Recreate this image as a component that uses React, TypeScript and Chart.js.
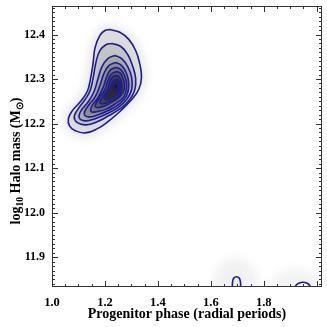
import { useEffect, useRef } from 'react';
import { Chart, registerables } from 'chart.js';

Chart.register(...registerables);

// Axis ranges and tick labels
const xRange = [1.0, 2.02];
const yRange = [11.833, 12.464];
const xMajorTicks = [1.0, 1.2, 1.4, 1.6, 1.8];
const yMajorTicks = [11.9, 12.0, 12.1, 12.2, 12.3, 12.4];
const xTitle = 'Progenitor phase (radial periods)';

// Contours of the density (outer -> inner), [phase, log10 mass]
const contour1 = [
  [1.219, 12.411], [1.256, 12.405], [1.29, 12.389], [1.316, 12.364], [1.331, 12.335],
  [1.338, 12.303], [1.327, 12.276], [1.301, 12.254], [1.26, 12.229], [1.215, 12.206],
  [1.17, 12.188], [1.125, 12.179], [1.088, 12.184], [1.066, 12.195], [1.062, 12.211],
  [1.077, 12.229], [1.11, 12.251], [1.133, 12.272], [1.144, 12.296], [1.155, 12.335],
  [1.163, 12.371], [1.181, 12.398], [1.2, 12.409], [1.219, 12.411],
];
const contour2 = [
  [1.226, 12.38], [1.26, 12.373], [1.286, 12.355], [1.304, 12.33], [1.316, 12.301],
  [1.312, 12.274], [1.29, 12.251], [1.256, 12.233], [1.215, 12.218], [1.17, 12.204],
  [1.129, 12.197], [1.096, 12.202], [1.084, 12.215], [1.099, 12.233], [1.125, 12.254],
  [1.144, 12.274], [1.155, 12.301], [1.166, 12.337], [1.181, 12.364], [1.204, 12.377],
  [1.226, 12.38],
];
const contour3 = [
  [1.237, 12.353], [1.263, 12.346], [1.286, 12.328], [1.301, 12.303], [1.301, 12.276],
  [1.282, 12.254], [1.249, 12.236], [1.207, 12.222], [1.163, 12.211], [1.125, 12.206],
  [1.103, 12.213], [1.11, 12.229], [1.137, 12.249], [1.159, 12.272], [1.174, 12.301],
  [1.189, 12.328], [1.211, 12.346], [1.237, 12.353],
];
const contour4 = [
  [1.241, 12.337], [1.263, 12.33], [1.282, 12.312], [1.29, 12.287], [1.282, 12.263],
  [1.256, 12.245], [1.219, 12.231], [1.174, 12.22], [1.14, 12.215], [1.122, 12.222],
  [1.137, 12.24], [1.163, 12.26], [1.181, 12.285], [1.196, 12.312], [1.215, 12.33],
  [1.241, 12.337],
];
const contour5 = [
  [1.245, 12.326], [1.263, 12.319], [1.278, 12.301], [1.282, 12.281], [1.271, 12.26],
  [1.245, 12.247], [1.207, 12.233], [1.17, 12.227], [1.148, 12.227], [1.151, 12.24],
  [1.174, 12.258], [1.193, 12.281], [1.207, 12.305], [1.222, 12.321], [1.245, 12.326],
];
const contour6 = [
  [1.245, 12.317], [1.26, 12.312], [1.271, 12.296], [1.273, 12.278], [1.26, 12.263],
  [1.234, 12.251], [1.2, 12.24], [1.174, 12.236], [1.163, 12.24], [1.178, 12.256],
  [1.2, 12.276], [1.211, 12.296], [1.226, 12.312], [1.245, 12.317],
];
const contour7 = [
  [1.245, 12.308], [1.256, 12.303], [1.263, 12.29], [1.263, 12.274], [1.249, 12.26],
  [1.222, 12.251], [1.196, 12.245], [1.181, 12.247], [1.193, 12.26], [1.211, 12.278],
  [1.219, 12.294], [1.23, 12.305], [1.245, 12.308],
];
const contour8 = [
  [1.245, 12.3], [1.254, 12.296], [1.258, 12.283], [1.252, 12.269], [1.234, 12.26],
  [1.211, 12.254], [1.2, 12.256], [1.207, 12.267], [1.222, 12.281], [1.23, 12.294],
  [1.245, 12.3],
];
const contour9 = [
  [1.243, 12.292], [1.249, 12.287], [1.249, 12.28], [1.241, 12.276], [1.235, 12.28],
  [1.236, 12.287], [1.243, 12.292],
];
// small contours touching the lower axis
const contourLow1 = [
  [1.682, 11.826], [1.682, 11.844], [1.687, 11.853], [1.697, 11.856], [1.707, 11.853],
  [1.712, 11.844], [1.713, 11.826],
];
const contourLow2 = [
  [1.915, 11.826], [1.922, 11.837], [1.935, 11.842], [1.948, 11.8435], [1.962, 11.842],
  [1.973, 11.837], [1.98, 11.826],
];
// faint density patches near the lower axis
const faintPatch1 = [
  [1.6, 11.826], [1.62, 11.872], [1.66, 11.9], [1.72, 11.897], [1.77, 11.872], [1.79, 11.826],
];
const faintPatch2 = [
  [1.82, 11.826], [1.85, 11.862], [1.91, 11.874], [1.98, 11.868], [2.02, 11.826],
];

const mainContours = [contour1, contour2, contour3, contour4, contour5, contour6, contour7, contour8, contour9];
const contourFill = ['#dcdcdc', '#c4c4c4', '#a8a8a8', '#8c8c8c', '#717171', '#575757', '#3f3f3f', '#2a2a2a', '#151515'];
const lineColor = '#1c1c96';

const SERIF = "'Liberation Serif', 'Times New Roman', serif";

export default function App() {
  const ref = useRef<HTMLCanvasElement | null>(null);

  useEffect(() => {
    document.body.style.margin = '0';
    const canvas = ref.current;
    if (!canvas) return;

    const allContours = [...mainContours, contourLow1, contourLow2];
    const datasets = allContours.map((c) => ({
      data: c.map(([x, y]) => ({ x, y })),
      showLine: true,
      tension: 0.45,
      borderColor: lineColor,
      borderWidth: 1.6,
      pointRadius: 0,
      fill: false,
    }));

    const densityPlugin = {
      id: 'density',
      beforeDatasetsDraw(chart: any) {
        const ctx = chart.ctx;
        const a = chart.chartArea;
        const xs = chart.scales.x;
        const ys = chart.scales.y;
        ctx.save();
        ctx.beginPath();
        ctx.rect(a.left, a.top, a.right - a.left, a.bottom - a.top);
        ctx.clip();
        const poly = (pts: number[][]) => {
          ctx.beginPath();
          pts.forEach(([x, y], i) => {
            const px = xs.getPixelForValue(x);
            const py = ys.getPixelForValue(y);
            if (i) ctx.lineTo(px, py);
            else ctx.moveTo(px, py);
          });
          ctx.closePath();
        };
        const smooth = (i: number) => {
          const meta = chart.getDatasetMeta(i);
          const line = meta.dataset;
          try {
            line.updateControlPoints(a, 'x');
            ctx.beginPath();
            line.path(ctx);
            ctx.closePath();
          } catch (e) {
            poly(allContours[i]);
          }
        };
        // faint halo around the main blob
        ctx.filter = 'blur(5px)';
        ctx.fillStyle = '#ebebeb';
        ctx.strokeStyle = '#ebebeb';
        ctx.lineWidth = 10;
        smooth(0);
        ctx.fill();
        ctx.stroke();
        ctx.fillStyle = '#f2f2f2';
        poly(faintPatch1);
        ctx.fill();
        poly(faintPatch2);
        ctx.fill();
        ctx.filter = 'blur(3px)';
        ctx.fillStyle = '#e6e6e6';
        smooth(9);
        ctx.fill();
        // nested contour fills
        ctx.filter = 'blur(1.5px)';
        mainContours.forEach((_, i) => {
          ctx.fillStyle = contourFill[i];
          smooth(i);
          ctx.fill();
        });
        ctx.filter = 'none';
        ctx.restore();
      },
      afterDraw(chart: any) {
        const ctx = chart.ctx;
        const a = chart.chartArea;
        const xs = chart.scales.x;
        const ys = chart.scales.y;
        ctx.save();
        ctx.strokeStyle = '#333';
        ctx.lineWidth = 1;
        ctx.strokeRect(Math.round(a.left) + 0.5, Math.round(a.top) + 0.5, Math.round(a.right - a.left) - 1, Math.round(a.bottom - a.top) - 1);
        ctx.beginPath();
        // x ticks (minor every 0.05, major every 0.2)
        for (let k = 0; ; k++) {
          const v = xRange[0] + k * 0.05;
          if (v > xRange[1] + 1e-9) break;
          const major = k % 4 === 0;
          const len = major ? 6 : 3;
          const px = Math.round(xs.getPixelForValue(v)) + 0.5;
          ctx.moveTo(px, a.bottom);
          ctx.lineTo(px, a.bottom - len);
          ctx.moveTo(px, a.top);
          ctx.lineTo(px, a.top + len);
        }
        // y ticks (minor every 0.01, major every 0.1)
        for (let k = Math.ceil(yRange[0] * 100); k <= Math.floor(yRange[1] * 100); k++) {
          const v = k / 100;
          const major = k % 10 === 0;
          const len = major ? 6 : 3;
          const py = Math.round(ys.getPixelForValue(v)) + 0.5;
          ctx.moveTo(a.left, py);
          ctx.lineTo(a.left + len, py);
          ctx.moveTo(a.right, py);
          ctx.lineTo(a.right - len, py);
        }
        ctx.stroke();

        // x title
        ctx.fillStyle = '#000';
        ctx.font = `bold 14px ${SERIF}`;
        ctx.textAlign = 'center';
        ctx.textBaseline = 'alphabetic';
        ctx.fillText(xTitle, (a.left + a.right) / 2, 318);

        // y title with subscripts
        const parts = [
          { t: 'log', s: 14, dy: 0 },
          { t: '10', s: 9.5, dy: 3 },
          { t: ' Halo mass (M', s: 14, dy: 0 },
          { t: '\u2299', s: 9.5, dy: 3 },
          { t: ')', s: 14, dy: 0 },
        ];
        let total = 0;
        parts.forEach((p) => {
          ctx.font = `bold ${p.s}px ${SERIF}`;
          total += ctx.measureText(p.t).width;
        });
        ctx.translate(20, 161);
        ctx.rotate(-Math.PI / 2);
        ctx.textAlign = 'left';
        let cx = -total / 2;
        parts.forEach((p) => {
          ctx.font = `bold ${p.s}px ${SERIF}`;
          ctx.fillText(p.t, cx, p.dy);
          cx += ctx.measureText(p.t).width;
        });
        ctx.restore();
      },
    };

    const chart = new Chart(canvas, {
      type: 'scatter',
      data: { datasets },
      options: {
        animation: false,
        responsive: false,
        devicePixelRatio: 1,
        layout: { padding: { top: 6, right: 5, left: 0, bottom: 0 } },
        plugins: { legend: { display: false }, tooltip: { enabled: false } },
        scales: {
          x: {
            type: 'linear',
            min: xRange[0],
            max: xRange[1],
            grid: { display: false, drawTicks: false },
            border: { display: false },
            afterBuildTicks: (s: any) => {
              s.ticks = xMajorTicks.map((v) => ({ value: v }));
            },
            afterFit: (s: any) => {
              s.height = 40;
              s.paddingLeft = 0;
              s.paddingRight = 0;
            },
            ticks: {
              autoSkip: false,
              maxRotation: 0,
              padding: 8,
              color: '#000',
              font: { family: SERIF, size: 12.5, weight: 'bold' },
              callback: (v: any) => Number(v).toFixed(1),
            },
          },
          y: {
            type: 'linear',
            min: yRange[0],
            max: yRange[1],
            grid: { display: false, drawTicks: false },
            border: { display: false },
            afterBuildTicks: (s: any) => {
              s.ticks = yMajorTicks.map((v) => ({ value: v }));
            },
            afterFit: (s: any) => {
              s.width = 52;
              s.paddingTop = 0;
              s.paddingBottom = 0;
            },
            ticks: {
              autoSkip: false,
              padding: 7,
              color: '#000',
              font: { family: SERIF, size: 12, weight: 'bold' },
              callback: (v: any) => Number(v).toFixed(1),
            },
          },
        },
      },
      plugins: [densityPlugin],
    });
    return () => chart.destroy();
  }, []);

  return <canvas ref={ref} width={327} height={327} style={{ display: 'block', width: 327, height: 327 }} />;
}
